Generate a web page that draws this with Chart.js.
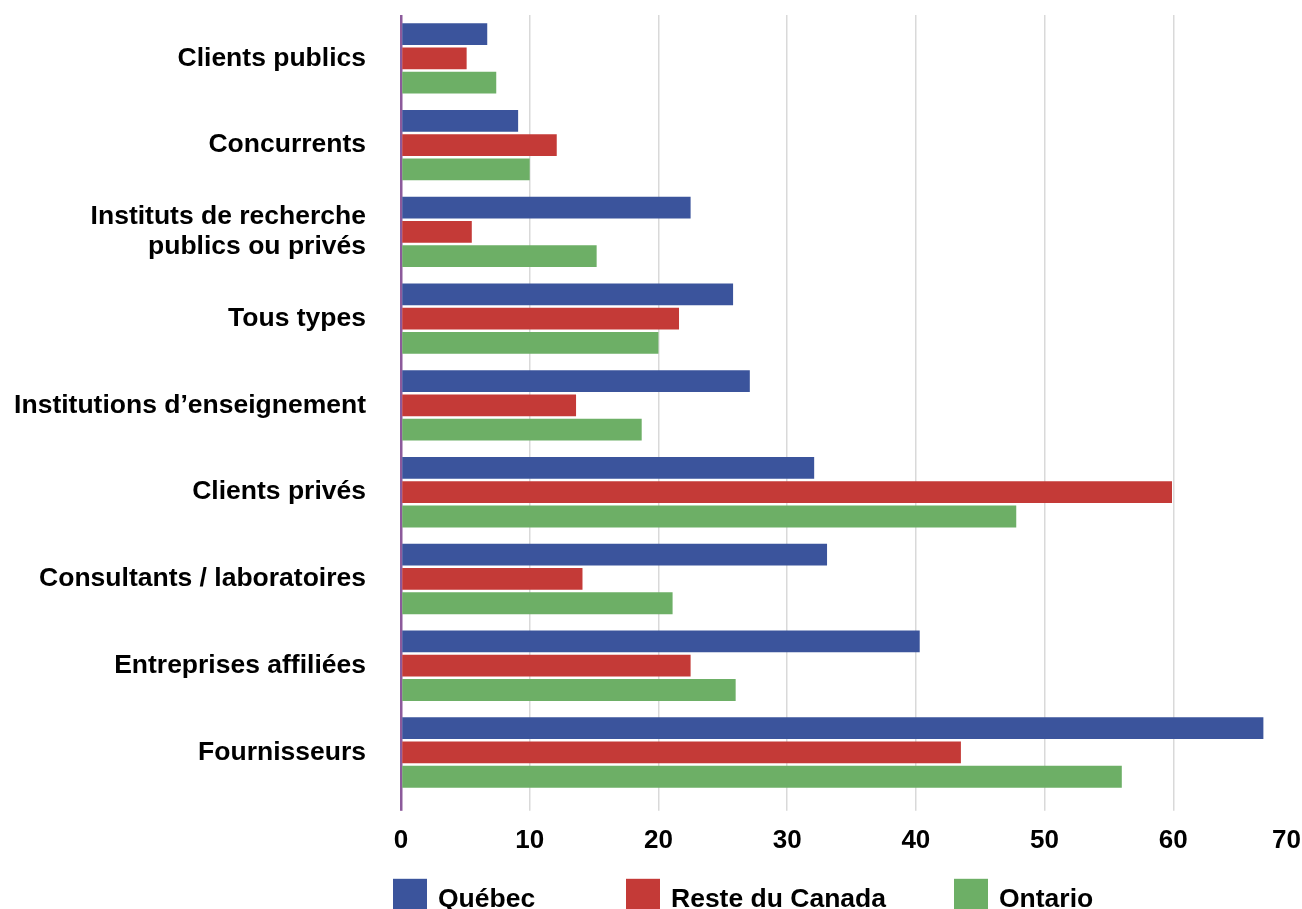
<!DOCTYPE html>
<html>
<head>
<meta charset="utf-8">
<script src="https://cdn.jsdelivr.net/npm/chart.js@4"></script>
<style>
  html, body { margin: 0; padding: 0; background: #fff; overflow: hidden; }
  #wrap { position: relative; width: 1302px; height: 909px; }
</style>
</head>
<body>
<div id="wrap"><canvas id="bar-chart"></canvas></div>
<script>
// categories, top to bottom
var categories = [
  "Clients publics",
  "Concurrents",
  ["Instituts de recherche", "publics ou privés"],
  "Tous types",
  "Institutions d’enseignement",
  "Clients privés",
  "Consultants / laboratoires",
  "Entreprises affiliées",
  "Fournisseurs"
];
var quebec =      [6.7, 9.1, 22.5, 25.8, 27.1, 32.1, 33.1, 40.3, 67.0];
var resteCanada = [5.1, 12.1, 5.5, 21.6, 13.6, 59.9, 14.1, 22.5, 43.5];
var ontario =     [7.4, 10.0, 15.2, 20.0, 18.7, 47.8, 21.1, 26.0, 56.0];
var xTicks = [0, 10, 20, 30, 40, 50, 60, 70];

var FONT = '"Liberation Sans", Arial, Helvetica, sans-serif';

// legend drawn under the axis; item columns measured from the plot's left edge
var legendCols = [-8, 225, 553];
var bottomLegend = {
  id: 'bottomLegend',
  afterDraw: function(chart) {
    var ctx = chart.ctx;
    var box = 34;
    var y = chart.chartArea.bottom + 83;
    ctx.save();
    ctx.font = 'bold 26.5px ' + FONT;
    ctx.textBaseline = 'middle';
    chart.data.datasets.forEach(function(ds, i) {
      var x = chart.chartArea.left + legendCols[i];
      ctx.fillStyle = ds.backgroundColor;
      ctx.fillRect(x, y, box, box);
      ctx.fillStyle = '#000';
      ctx.fillText(ds.label, x + box + 11, y + box / 2 + 4);
    });
    ctx.restore();
  }
};

new Chart(document.getElementById("bar-chart"), {
  type: 'bar',
  data: {
    labels: categories,
    datasets: [
      { label: "Québec", data: quebec, backgroundColor: "#3b549c" },
      { label: "Reste du Canada", data: resteCanada, backgroundColor: "#c43a37" },
      { label: "Ontario", data: ontario, backgroundColor: "#6daf66" }
    ]
  },
  options: {
    indexAxis: 'y',
    responsive: true,
    maintainAspectRatio: false,
    animation: false,
    categoryPercentage: 0.84,
    barPercentage: 0.9,
    layout: { padding: { top: 15, right: 0, bottom: 39, left: 0 } },
    plugins: {
      legend: { display: false },
      tooltip: { enabled: false }
    },
    scales: {
      x: {
        min: 0,
        max: 70,
        afterBuildTicks: function(scale) {
          scale.ticks = xTicks.map(function(v) { return { value: v }; });
        },
        afterFit: function(scale) { scale.paddingRight = 0; },
        border: { display: false },
        grid: {
          color: function(c) {
            if (c.tick && c.tick.value === 0) return '#8c5a9b';
            if (c.tick && c.tick.value === 70) return 'rgba(0,0,0,0)';
            return '#d9d9d9';
          },
          lineWidth: function(c) { return c.tick && c.tick.value === 0 ? 2.5 : 1.5; },
          drawTicks: true,
          tickLength: 15
        },
        ticks: {
          padding: 14,
          color: '#000',
          font: { family: FONT, size: 26, weight: 'bold' },
          maxRotation: 0,
          callback: function(v) {
            // last label sits inside the canvas edge
            return v === 70 ? '70\u2002\u2002\u2009' : String(v);
          }
        }
      },
      y: {
        afterFit: function(scale) {
          scale.width = 401;
          scale.paddingTop = 0;
          scale.paddingBottom = 0;
        },
        border: { display: false },
        grid: { display: false, drawTicks: false },
        ticks: {
          padding: 35,
          color: '#000',
          font: { family: FONT, size: 26.5, weight: 'bold', lineHeight: 1.15 }
        }
      }
    }
  },
  plugins: [bottomLegend]
});
</script>
</body>
</html>
